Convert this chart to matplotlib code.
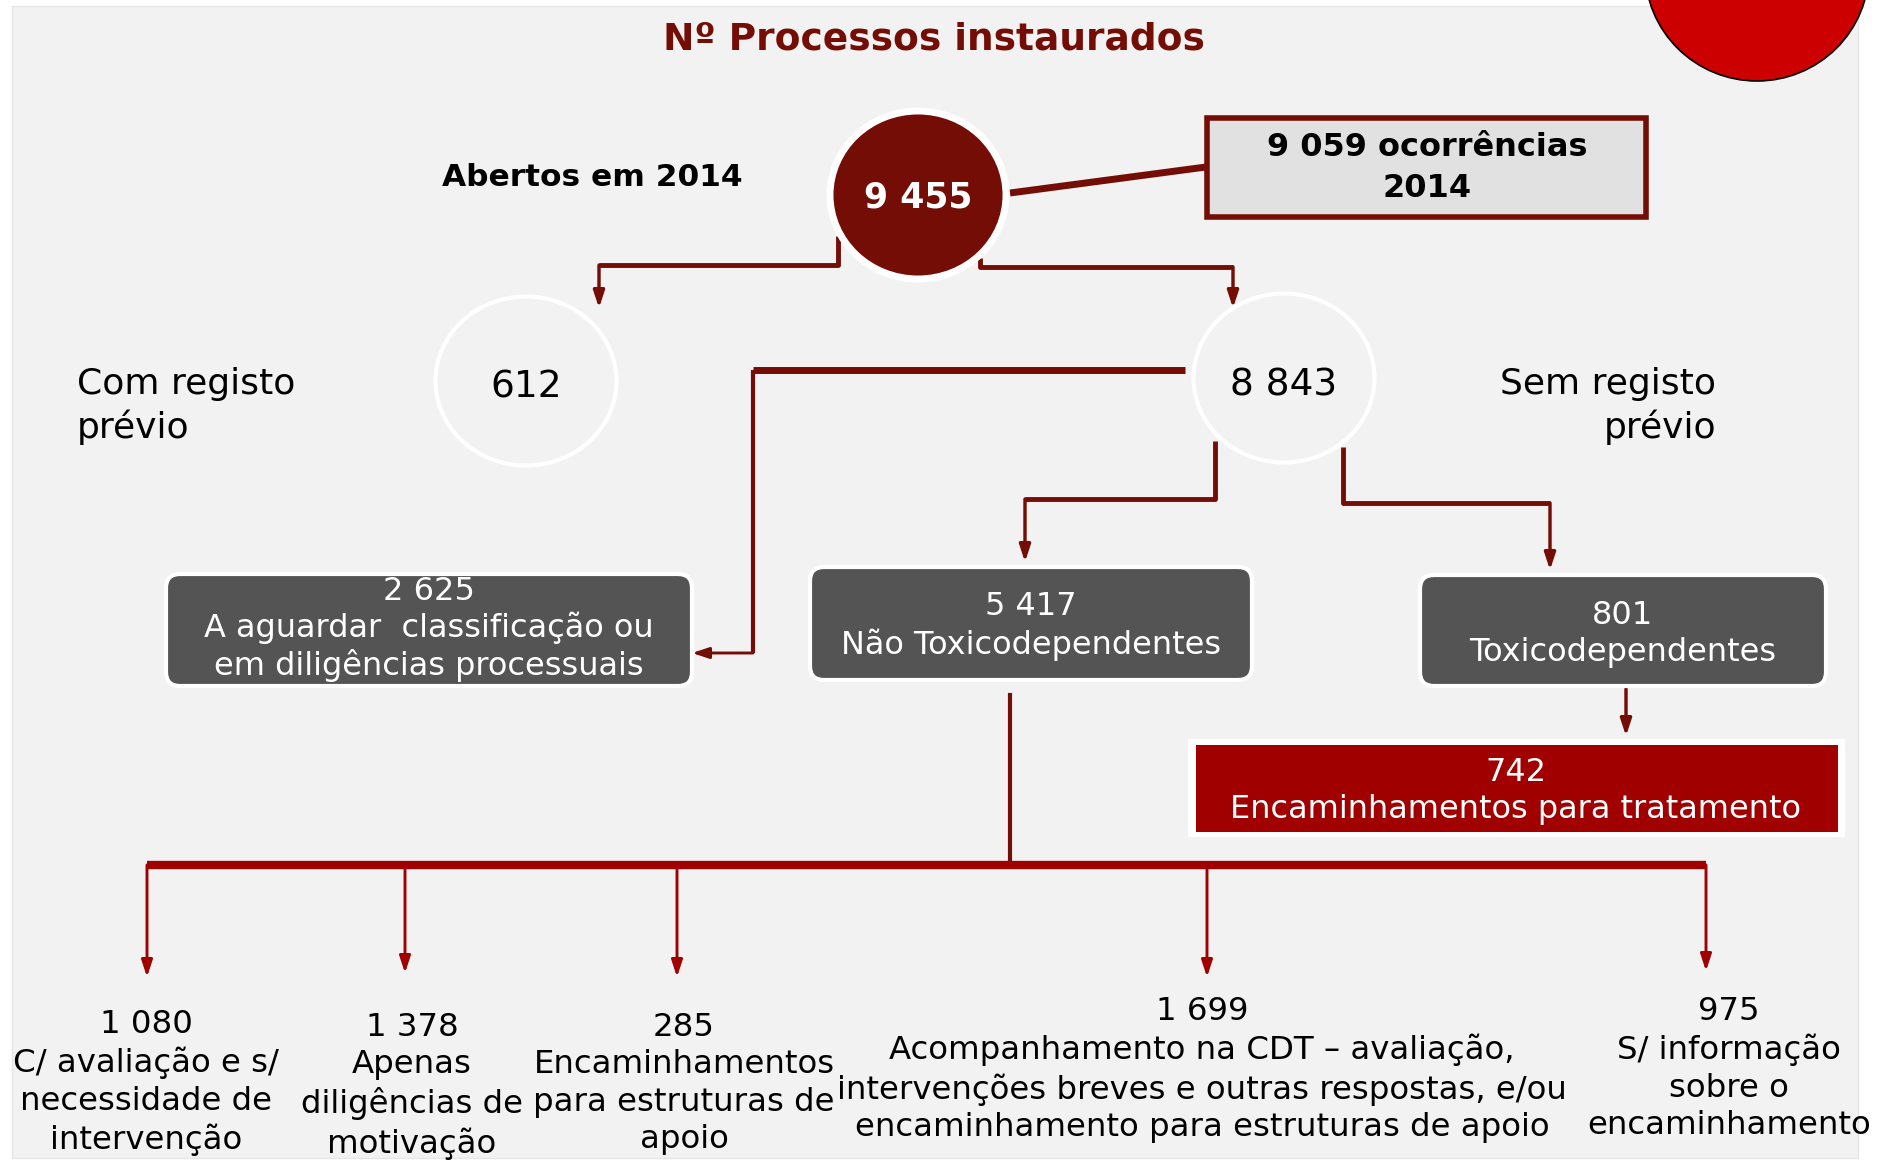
import matplotlib.pyplot as plt
from matplotlib.patches import Ellipse, Rectangle, FancyBboxPatch

# ---- data ----
title = "Nº Processos instaurados"
total_2014 = 9455
ocorrencias_2014 = 9059
com_registo = 612
sem_registo = 8843
aguardar = 2625
nao_toxico = 5417
toxico = 801
tratamento = 742
sub_values = [1080, 1378, 285, 1699, 975]
sub_labels = ["C/ avaliação e s/\nnecessidade de\nintervenção",
              "Apenas\ndiligências de\nmotivação",
              "Encaminhamentos\npara estruturas de\napoio",
              "Acompanhamento na CDT – avaliação,\nintervenções breves e outras respostas, e/ou\nencaminhamento para estruturas de apoio",
              "S/ informação\nsobre o\nencaminhamento"]


def fmt(v):
    return f"{v:,}".replace(",", " ")


DARK = "#730d06"
RED = "#a00000"
GREY = "#545454"
BG = "#f2f2f2"
FS = 23

plt.rcParams['font.family'] = ['DejaVu Sans']
fig = plt.figure(figsize=(18.96, 11.63), dpi=100)
ax = fig.add_axes([0, 0, 1, 1])
ax.set_xlim(0, 1896)
ax.set_ylim(1163, 0)
ax.axis('off')

# panel + decorative circle
ax.add_patch(Rectangle((12, 6), 1846, 1152, facecolor=BG, edgecolor="#e6e6e6", lw=1, zorder=0))
ax.add_patch(Ellipse((1757, -30), 224, 222, facecolor="#cc0000", edgecolor="black", lw=1.2, zorder=1))

ax.text(934, 39, title, ha='center', va='center', fontsize=27, fontweight='bold', color=DARK)


def path(pts, color=DARK, lw=3.5, arrow=True):
    xs = [p[0] for p in pts[:-1]]
    ys = [p[1] for p in pts[:-1]]
    if arrow:
        ax.plot(xs, ys, color=color, lw=lw, solid_capstyle='butt', zorder=2)
        ax.annotate('', xy=pts[-1], xytext=pts[-2],
                    arrowprops=dict(arrowstyle='-|>,head_width=0.33,head_length=1.0',
                                    color=color, lw=lw * 0.7, shrinkA=0, shrinkB=0), zorder=2)
    else:
        ax.plot([p[0] for p in pts], [p[1] for p in pts], color=color, lw=lw,
                solid_capstyle='butt', zorder=2)


# top connectors
path([(1010, 193), (1206, 167)], lw=5, arrow=False)
path([(838, 236), (838, 265), (599, 265), (599, 308)])
path([(980, 258), (980, 267), (1233, 267), (1233, 308)])

# main circle and occurrences box
ax.add_patch(Ellipse((918, 195), 176, 168, facecolor=DARK, edgecolor="white", lw=5, zorder=3))
ax.text(918, 197, fmt(total_2014), ha='center', va='center', fontsize=25, fontweight='bold', color='white', zorder=4)
ax.text(592, 178, "Abertos em 2014", ha='center', va='center', fontsize=22.5, fontweight='bold', color='black')
ax.add_patch(Rectangle((1207, 118), 439, 99, facecolor="#e1e1e1", edgecolor=DARK, lw=4, zorder=3))
ax.text(1427, 168, f"{fmt(ocorrencias_2014)} ocorrências\n2014", ha='center', va='center',
        fontsize=23, fontweight='bold', color='black', linespacing=1.4, zorder=4)

# second level circles
ax.add_patch(Ellipse((526, 381), 181, 169, facecolor=BG, edgecolor="white", lw=3, zorder=3))
ax.text(526, 387, fmt(com_registo), ha='center', va='center', fontsize=27, zorder=4)
ax.add_patch(Ellipse((1284, 378), 181, 169, facecolor=BG, edgecolor="white", lw=3, zorder=3))
ax.text(1284, 386, fmt(sem_registo), ha='center', va='center', fontsize=27, zorder=4)
ax.text(77, 406, "Com registo\nprévio", ha='left', va='center', fontsize=26, linespacing=1.3)
ax.text(1716, 406, "Sem registo\nprévio", ha='right', va='center', fontsize=26, linespacing=1.3)

# connectors from 8 843
ax.plot([1185, 753], [370, 370], color=DARK, lw=5, solid_capstyle='butt', zorder=2)
path([(753, 370), (753, 653), (692, 653)], lw=3)
path([(1215, 441), (1215, 499), (1025, 499), (1025, 562)])
path([(1343, 447), (1343, 503), (1550, 503), (1550, 570)])


def box(x0, y0, x1, y1, txt, ty, ls=1.27):
    ax.add_patch(FancyBboxPatch((x0, y0), x1 - x0, y1 - y0,
                                boxstyle="round,pad=0,rounding_size=14",
                                facecolor=GREY, edgecolor="white", lw=3, zorder=3))
    ax.text((x0 + x1) / 2, ty, txt, ha='center', va='center', fontsize=FS,
            color='white', linespacing=ls, zorder=4)


box(166, 574, 692, 686, f"{fmt(aguardar)}\nA aguardar  classificação ou\nem diligências processuais", 629, ls=1.2)
box(810, 567, 1252, 680, f"{fmt(nao_toxico)}\nNão Toxicodependentes", 626)
box(1420, 575, 1826, 686, f"{fmt(toxico)}\nToxicodependentes", 634)

# treatment box
path([(1626, 689), (1626, 736)])
ax.add_patch(Rectangle((1188, 739), 657, 98, facecolor="white", edgecolor="none", zorder=3))
ax.add_patch(Rectangle((1196, 745), 642, 87, facecolor=RED, edgecolor="none", zorder=3))
ax.text(1516, 791, f"{fmt(tratamento)}\nEncaminhamentos para tratamento", ha='center', va='center',
        fontsize=FS, color='white', linespacing=1.27, zorder=4)

# bottom bus
ax.plot([1010, 1010], [695, 862], color=DARK, lw=3, zorder=2)
sub_x = [147, 405, 677, 1207, 1706]
sub_end = [977, 973, 977, 977, 971]
ax.plot([sub_x[0], sub_x[-1]], [865, 865], color=RED, lw=6, solid_capstyle='butt', zorder=2)
for x, ye in zip(sub_x, sub_end):
    path([(x, 865), (x, ye)], color=RED, lw=3)

text_x = [146, 412, 684, 1202, 1729]
text_top = [1009, 1012, 1012, 996, 996]
for x, yt, v, lab in zip(text_x, text_top, sub_values, sub_labels):
    ax.text(x, yt, f"{fmt(v)}\n{lab}", ha='center', va='top', fontsize=23.3,
            color='black', linespacing=1.27, zorder=4)

fig.savefig("out.png", dpi=100)
